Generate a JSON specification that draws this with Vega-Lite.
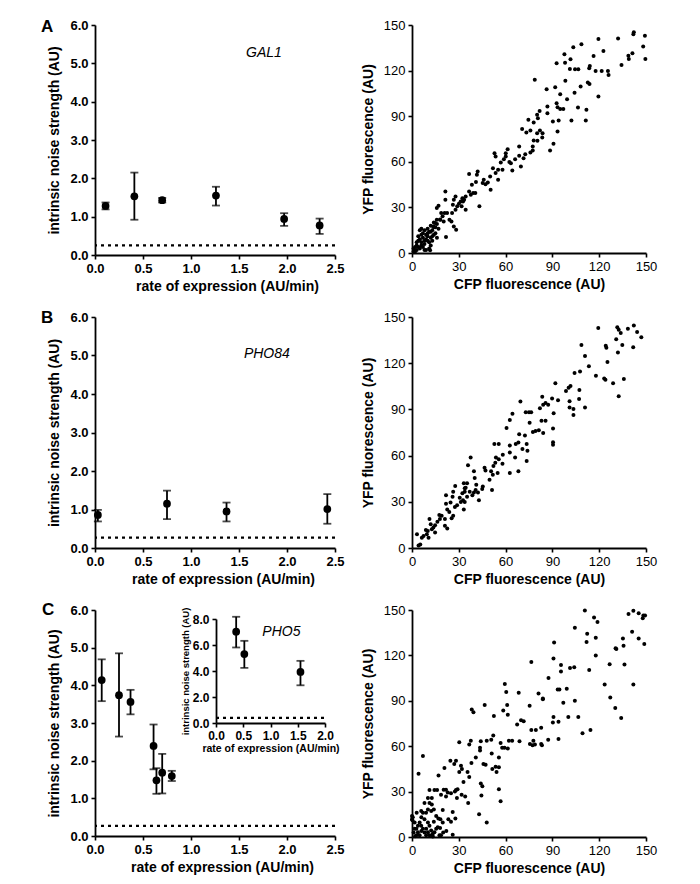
{
  "$schema": "https://vega.github.io/schema/vega-lite/v6.json",
  "background": "white",
  "padding": {"left": 41, "top": 17, "right": 5, "bottom": 5},
  "config": {
    "font": "Liberation Sans",
    "view": {"stroke": null},
    "axis": {
      "grid": false, "domainColor": "black", "domainWidth": 1.8, "tickColor": "black", "tickWidth": 1.6, "tickSize": 4,
      "labelColor": "black", "titleColor": "black", "labelFont": "Liberation Sans", "titleFont": "Liberation Sans",
      "titleFontWeight": "bold", "titleFontSize": 14, "labelFontSize": 13, "labelFlush": false, "labelOverlap": false,
      "labelPadding": 3
    },
    "axisX": {"titlePadding": 4},
    "axisY": {"titlePadding": 8}
  },
  "datasets": {
    "gal1": [
      {"x": 0.11, "y": 1.28, "lo": 1.19, "hi": 1.37},
      {"x": 0.41, "y": 1.53, "lo": 0.92, "hi": 2.15},
      {"x": 0.7, "y": 1.43, "lo": 1.37, "hi": 1.49},
      {"x": 1.26, "y": 1.55, "lo": 1.29, "hi": 1.78},
      {"x": 1.97, "y": 0.94, "lo": 0.76, "hi": 1.09},
      {"x": 2.34, "y": 0.77, "lo": 0.55, "hi": 0.95}
    ],
    "pho84": [
      {"x": 0.03, "y": 0.86, "lo": 0.69, "hi": 0.99},
      {"x": 0.75, "y": 1.15, "lo": 0.75, "hi": 1.49},
      {"x": 1.37, "y": 0.95, "lo": 0.69, "hi": 1.18},
      {"x": 2.42, "y": 1.01, "lo": 0.63, "hi": 1.4}
    ],
    "pho5": [
      {"x": 0.07, "y": 4.14, "lo": 3.58, "hi": 4.69},
      {"x": 0.25, "y": 3.74, "lo": 2.64, "hi": 4.85},
      {"x": 0.37, "y": 3.56, "lo": 3.23, "hi": 3.88},
      {"x": 0.61, "y": 2.39, "lo": 1.77, "hi": 2.96},
      {"x": 0.64, "y": 1.48, "lo": 1.12, "hi": 1.8},
      {"x": 0.7, "y": 1.68, "lo": 1.13, "hi": 2.18},
      {"x": 0.8, "y": 1.59, "lo": 1.46, "hi": 1.73}
    ],
    "pho5inset": [
      {"x": 0.37, "y": 7.02, "lo": 5.81, "hi": 8.17},
      {"x": 0.52, "y": 5.3, "lo": 4.24, "hi": 6.32},
      {"x": 1.55, "y": 3.93, "lo": 2.9, "hi": 4.78}
    ],
    "scatA": [
      {"x":142.2,"y":145.2},{"x":141.9,"y":143.9},{"x":149.3,"y":143},{"x":148.2,"y":135.8},{"x":149.6,"y":127.7},{"x":141.3,"y":131.4},{"x":138.7,"y":129.8},{"x":139,"y":127.7},{"x":134.3,"y":123.7},{"x":132.1,"y":141.2},{"x":119.5,"y":140.8},{"x":122.7,"y":132.9},{"x":116.4,"y":129.6},{"x":114,"y":123},{"x":113.6,"y":121.5},{"x":117.7,"y":119.8},{"x":121.6,"y":119.8},{"x":125.6,"y":119.8},{"x":126,"y":117.1},{"x":119.5,"y":102.9},{"x":112.7,"y":112.1},{"x":113.8,"y":111.2},{"x":111.8,"y":94.2},{"x":111.4,"y":87.1},{"x":108.1,"y":109.5},{"x":106.4,"y":95.7},{"x":104.2,"y":105.5},{"x":102.2,"y":87.1},{"x":99.4,"y":101.2},{"x":108.6,"y":137.3},{"x":103.4,"y":135.3},{"x":101.6,"y":127.4},{"x":101.2,"y":121.1},{"x":104.5,"y":120.9},{"x":106.6,"y":120.9},{"x":97.7,"y":130.7},{"x":98.1,"y":125.2},{"x":98.3,"y":113.4},{"x":92.7,"y":124.8},{"x":91.8,"y":109},{"x":92.7,"y":98.5},{"x":93.3,"y":95.9},{"x":95,"y":104.4},{"x":95,"y":94.8},{"x":94,"y":87.1},{"x":93.3,"y":79.9},{"x":97,"y":94.8},{"x":90.7,"y":71.8},{"x":88.5,"y":67.4},{"x":90.3,"y":86.5},{"x":86.3,"y":107.7},{"x":86.8,"y":96.3},{"x":86.8,"y":92},{"x":78.7,"y":113.9},{"x":81.8,"y":93.5},{"x":80.2,"y":90.9},{"x":80.7,"y":88.7},{"x":78,"y":85.8},{"x":74.6,"y":87.6},{"x":75.9,"y":80.6},{"x":73.3,"y":79.3},{"x":70.6,"y":81.5},{"x":80.2,"y":78.8},{"x":82,"y":80.6},{"x":83.7,"y":78.8},{"x":83.5,"y":76},{"x":80.4,"y":73.8},{"x":78,"y":74},{"x":77.4,"y":70.1},{"x":77.4,"y":67.4},{"x":75.9,"y":66.1},{"x":72.6,"y":65},{"x":71.5,"y":62.4},{"x":68.7,"y":63.9},{"x":69.8,"y":56.9},{"x":68.7,"y":70.1},{"x":66.1,"y":61.7},{"x":62.4,"y":59.8},{"x":63.4,"y":59.1},{"x":60.1,"y":63.5},{"x":60.1,"y":65.7},{"x":61.3,"y":68.3},{"x":64.3,"y":54.3},{"x":58.9,"y":61.7},{"x":56.9,"y":59.6},{"x":58,"y":54.7},{"x":55.2,"y":48.2},{"x":55.2,"y":54.7},{"x":53.6,"y":52.6},{"x":53.6,"y":63.5},{"x":52.9,"y":65.7},{"x":51.9,"y":55.8},{"x":50.1,"y":50.4},{"x":50.4,"y":41.6},{"x":48.6,"y":46.4},{"x":47.1,"y":45.3},{"x":45.3,"y":46},{"x":46,"y":48.2},{"x":42.1,"y":53.6},{"x":41.6,"y":51.5},{"x":41,"y":46.7},{"x":40.6,"y":39.4},{"x":43.2,"y":30.7},{"x":36.6,"y":51.9},{"x":38.4,"y":44.9},{"x":37.7,"y":38.3},{"x":36.6,"y":40.5},{"x":39.2,"y":39.4},{"x":34.4,"y":37.2},{"x":33.4,"y":35},{"x":32.3,"y":36.1},{"x":31.2,"y":33.9},{"x":30.1,"y":32.4},{"x":31.8,"y":30.7},{"x":34.4,"y":28.5},{"x":32.7,"y":33.9},{"x":29,"y":30.7},{"x":27.9,"y":37.2},{"x":26.8,"y":35},{"x":26.2,"y":31.7},{"x":27.9,"y":28.5},{"x":25.7,"y":26.3},{"x":26.8,"y":17.5},{"x":28.3,"y":15.3},{"x":25.3,"y":20.8},{"x":24,"y":21.9},{"x":21.4,"y":40.5},{"x":21.4,"y":35},{"x":22.5,"y":26.3},{"x":20.9,"y":26.3},{"x":19.6,"y":24.1},{"x":18.7,"y":26.3},{"x":20.3,"y":20.8},{"x":21.8,"y":10.5},{"x":18.1,"y":21.9},{"x":17,"y":31.1},{"x":15.9,"y":29.6},{"x":15.9,"y":21.9},{"x":14.8,"y":19.7},{"x":13.7,"y":17.5},
      {"x":5,"y":3},{"x":3,"y":5},{"x":2,"y":1},{"x":4,"y":8},{"x":6,"y":5},{"x":7,"y":10},{"x":8,"y":6},{"x":9,"y":12},{"x":10,"y":8},{"x":11,"y":14},{"x":12,"y":10},{"x":13,"y":15},{"x":14,"y":12},{"x":15,"y":17},{"x":6,"y":12},{"x":5,"y":15},{"x":8,"y":15},{"x":10,"y":16},{"x":12,"y":18},{"x":13,"y":8},{"x":14,"y":20},{"x":16,"y":19},{"x":17,"y":16},{"x":18,"y":22},{"x":11,"y":3},{"x":9,"y":2},{"x":7,"y":4},{"x":3,"y":2},{"x":1,"y":1},{"x":2,"y":4},{"x":4,"y":11},{"x":6,"y":16},{"x":8,"y":2},{"x":10,"y":11},{"x":12,"y":5},{"x":15,"y":13},{"x":16,"y":10},{"x":7,"y":13},{"x":5,"y":9},{"x":9,"y":9},{"x":11,"y":7},{"x":13,"y":11},{"x":14,"y":17},{"x":4,"y":4},{"x":6,"y":7},{"x":8,"y":8},{"x":10,"y":13},{"x":12,"y":14},{"x":3,"y":7},{"x":1,"y":3},{"x":11.6,"y":1.8}
    ],
    "scatB": [
      {"x":142.2,"y":144.5},{"x":131.6,"y":143.4},{"x":132.5,"y":141.8},{"x":138.4,"y":142.3},{"x":144.3,"y":140.3},{"x":147,"y":136.9},{"x":133.8,"y":139.6},{"x":119.4,"y":142.9},{"x":130.9,"y":135.6},{"x":141.8,"y":130.3},{"x":134.8,"y":131.8},{"x":124.2,"y":131.4},{"x":124.6,"y":130.1},{"x":132,"y":127},{"x":108.6,"y":131.8},{"x":110.9,"y":124.7},{"x":125.3,"y":120.8},{"x":113.4,"y":118.1},{"x":117.9,"y":111.9},{"x":123.2,"y":110.1},{"x":124,"y":109.2},{"x":128.9,"y":107},{"x":135.8,"y":109.7},{"x":132.5,"y":98.6},{"x":107.7,"y":114.6},{"x":104.2,"y":113.7},{"x":91.9,"y":107},{"x":101.6,"y":105.2},{"x":100.4,"y":104.1},{"x":98.7,"y":101.9},{"x":107.3,"y":102.6},{"x":107.1,"y":96.8},{"x":110.9,"y":91.3},{"x":101,"y":95.3},{"x":101,"y":91.3},{"x":103.5,"y":90.2},{"x":103.5,"y":86.4},{"x":93.6,"y":95.9},{"x":89.8,"y":97},{"x":90.8,"y":87.5},{"x":90.4,"y":77.6},{"x":90.4,"y":68.7},{"x":90.4,"y":67.1},{"x":87.3,"y":93.1},{"x":85.6,"y":94.2},{"x":84.1,"y":93.1},{"x":83.5,"y":98.2},{"x":82,"y":90.8},{"x":83,"y":82.6},{"x":85.6,"y":82.6},{"x":84.1,"y":74.7},{"x":81.3,"y":76.4},{"x":79.2,"y":76},{"x":77.5,"y":75.3},{"x":76.4,"y":88.2},{"x":75,"y":88.2},{"x":72.9,"y":88.2},{"x":75.4,"y":81.3},{"x":69.5,"y":95.1},{"x":64.4,"y":87.1},{"x":62.7,"y":83.1},{"x":60.6,"y":78},{"x":68.7,"y":73.8},{"x":72.4,"y":73.1},{"x":66.5,"y":67.6},{"x":68.2,"y":68.5},{"x":73.5,"y":67.6},{"x":74,"y":63.2},{"x":70.8,"y":64.3},{"x":73.5,"y":56.5},{"x":68.2,"y":49.9},{"x":62.7,"y":66.5},{"x":62.7,"y":62},{"x":66.1,"y":58.7},{"x":62.7,"y":48.7},{"x":58.2,"y":60.5},{"x":58,"y":54.7},{"x":55.6,"y":67.6},{"x":52.8,"y":67.6},{"x":53.8,"y":58.7},{"x":55.6,"y":57.6},{"x":53.4,"y":55.4},{"x":54.9,"y":48.7},{"x":52.2,"y":53.2},{"x":51.8,"y":47.6},{"x":50.7,"y":49.9},{"x":49.7,"y":44.3},{"x":46.5,"y":52.1},{"x":47.1,"y":50.3},{"x":51.3,"y":37.7},{"x":45,"y":38.3},{"x":45.4,"y":39.9},{"x":42.3,"y":36.1},{"x":42.9,"y":31},{"x":41.2,"y":41},{"x":40.2,"y":45.4},{"x":40.8,"y":37.7},{"x":39.7,"y":36.1},{"x":38.7,"y":34.3},{"x":39.7,"y":49.9},{"x":37.6,"y":58.7},{"x":35.9,"y":53.8},{"x":35.3,"y":42.1},{"x":34.4,"y":39.2},{"x":37,"y":36.6},{"x":35.3,"y":33.2},{"x":33.2,"y":42.1},{"x":33.8,"y":38.8},{"x":33.8,"y":36.6},{"x":32.7,"y":31},{"x":32.3,"y":35.5},{"x":30.6,"y":32.6},{"x":31.3,"y":29.9},{"x":33.2,"y":25},{"x":33.8,"y":29.9},{"x":28.9,"y":27.7},{"x":27.7,"y":40.3},{"x":27.5,"y":26.6},{"x":26.4,"y":36.6},{"x":26,"y":33.2},{"x":24.7,"y":29.5},{"x":23.9,"y":23.3},{"x":26.4,"y":21},{"x":25.4,"y":19.3},{"x":22.6,"y":25},{"x":21.8,"y":34.3},{"x":21.8,"y":28.8},{"x":22.6,"y":12.6},{"x":21.1,"y":14.4},{"x":21.1,"y":18.8},{"x":19,"y":21},{"x":17.5,"y":21.5},{"x":17.9,"y":18.8},{"x":16.3,"y":17.1},{"x":14.8,"y":14.8},{"x":13.7,"y":13.3},{"x":12.7,"y":12.2},{"x":11.2,"y":18.8},{"x":12,"y":15.5},{"x":14.8,"y":10},{"x":10.1,"y":11.1},{"x":9.5,"y":8.9},{"x":8.9,"y":11.7},{"x":7.4,"y":7.8},{"x":6.3,"y":6.6},{"x":5.3,"y":2.2},{"x":4.2,"y":1.6},{"x":3.2,"y":8.9},{"x":10.6,"y":6.6}
    ],
    "scatC": [
      {"x":141.9,"y":149.5},{"x":138.8,"y":147.4},{"x":145.3,"y":147.9},{"x":148.3,"y":146.4},{"x":147.9,"y":144.6},{"x":149.4,"y":146.4},{"x":110.8,"y":149.6},{"x":116.7,"y":145.1},{"x":118.9,"y":142.1},{"x":104.4,"y":138.2},{"x":112.3,"y":134.3},{"x":111.9,"y":128.8},{"x":117.8,"y":131.6},{"x":117.8,"y":120},{"x":91.1,"y":128.6},{"x":90.7,"y":117.9},{"x":141.1,"y":135.6},{"x":145.3,"y":131.1},{"x":135.2,"y":131.1},{"x":135.6,"y":126.4},{"x":130.5,"y":124.7},{"x":131,"y":124.3},{"x":148.9,"y":127.5},{"x":126.7,"y":114.2},{"x":136.2,"y":114},{"x":113.6,"y":110.3},{"x":104,"y":112.1},{"x":101.3,"y":111.6},{"x":95.5,"y":113.6},{"x":95.5,"y":109.3},{"x":76.5,"y":115.7},{"x":123.5,"y":100.7},{"x":141.9,"y":100.7},{"x":127.1,"y":92.1},{"x":130.3,"y":85.3},{"x":134.1,"y":78.6},{"x":104.4,"y":90},{"x":99.2,"y":97.9},{"x":94.5,"y":97.5},{"x":93.4,"y":97.5},{"x":97,"y":88.7},{"x":87.5,"y":105},{"x":59.5,"y":101.1},{"x":60.4,"y":95.8},{"x":68.4,"y":95.4},{"x":81.1,"y":94.9},{"x":83.9,"y":91.5},{"x":83.9,"y":91.1},{"x":61,"y":87.2},{"x":61.4,"y":80.8},{"x":58.5,"y":83.6},{"x":52.5,"y":79.9},{"x":46.6,"y":87.2},{"x":38.3,"y":84.2},{"x":39.4,"y":82.5},{"x":100.2,"y":79.3},{"x":106.6,"y":79.3},{"x":114.4,"y":70.7},{"x":109.3,"y":68.6},{"x":90.7,"y":79.3},{"x":90.3,"y":75.6},{"x":93.9,"y":76.1},{"x":75.4,"y":86.8},{"x":71.6,"y":76.5},{"x":69.9,"y":77.1},{"x":67.4,"y":74.4},{"x":76.5,"y":70.7},{"x":79.4,"y":70.7},{"x":82.8,"y":72.2},{"x":93.9,"y":64.7},{"x":87.3,"y":64.3},{"x":82.8,"y":61.5},{"x":83.3,"y":60.6},{"x":77.8,"y":63.6},{"x":75.6,"y":61.5},{"x":77.3,"y":60.6},{"x":78.8,"y":61.1},{"x":68.9,"y":63.2},{"x":64.2,"y":63.6},{"x":62.1,"y":63.6},{"x":61.4,"y":58.5},{"x":59.3,"y":58.9},{"x":56.8,"y":62.1},{"x":57.8,"y":58.9},{"x":52.1,"y":67.1},{"x":50.8,"y":64.3},{"x":47.9,"y":63.6},{"x":44.1,"y":63.2},{"x":43.6,"y":58.9},{"x":43.6,"y":57.2},{"x":40.9,"y":52.5},{"x":38.1,"y":48.9},{"x":36.7,"y":61.1},{"x":37.7,"y":63.6},{"x":30.3,"y":62.6},{"x":28.2,"y":50.4},{"x":27.1,"y":48.2},{"x":31.4,"y":47.1},{"x":32,"y":45},{"x":24.6,"y":50.4},{"x":20.8,"y":45.6},{"x":17,"y":40.7},{"x":30.3,"y":42.9},{"x":35.6,"y":42.9},{"x":36.7,"y":39.6},{"x":33,"y":36.4},{"x":29.2,"y":31.5},{"x":28.8,"y":25.7},{"x":28.2,"y":31},{"x":27.5,"y":30},{"x":25,"y":28.9},{"x":22.9,"y":29.4},{"x":21.8,"y":31.2},{"x":20.3,"y":31.2},{"x":21.8,"y":26.8},{"x":16.1,"y":31.1},{"x":18.6,"y":27.9},{"x":19.7,"y":17.8},{"x":31.8,"y":27.9},{"x":34.1,"y":26.8},{"x":36,"y":22.5},{"x":43,"y":15},{"x":47.9,"y":9.6},{"x":51.5,"y":45},{"x":54.2,"y":42.9},{"x":51.1,"y":55.1},{"x":55.7,"y":52.5},{"x":53.6,"y":46.5},{"x":55.7,"y":46.1},{"x":55.7,"y":31.5},{"x":56.8,"y":23.6},{"x":44.5,"y":27.4},{"x":45.1,"y":33.6},{"x":44.1,"y":35.4},{"x":45.8,"y":48.2},{"x":47.2,"y":47.8},{"x":23.3,"y":11.8},{"x":26.1,"y":16.5},{"x":27.8,"y":12.2},{"x":26.1,"y":1.5},{"x":14.4,"y":31.1},{"x":12.7,"y":25.7},{"x":11.2,"y":31.1},{"x":7,"y":53.5},{"x":4.2,"y":41.8},
      {"x":0,"y":13.9},{"x":0,"y":11.8},{"x":1.7,"y":9.6},{"x":2.8,"y":5.4},{"x":3.8,"y":3.2},{"x":4.9,"y":1.1},{"x":5.9,"y":17.1},{"x":7,"y":16.1},{"x":8,"y":11.8},{"x":9.1,"y":5.4},{"x":10.2,"y":9.6},{"x":11.2,"y":7.5},{"x":12.3,"y":4.3},{"x":13.3,"y":2.1},{"x":14.4,"y":3.2},{"x":15.5,"y":5.4},{"x":16.5,"y":6.4},{"x":17.6,"y":1.1},{"x":18.6,"y":1.1},{"x":19.7,"y":9.6},{"x":8,"y":22.5},{"x":10.2,"y":25.7},{"x":11.2,"y":22.5},{"x":12.7,"y":21.4},{"x":14,"y":18.2},{"x":15.5,"y":13.9},{"x":16.9,"y":12.2},{"x":18.2,"y":11.8},{"x":10.2,"y":18.2},{"x":12.3,"y":17.1},{"x":5.9,"y":7.5},{"x":3.8,"y":7.5},{"x":1.7,"y":5.4},{"x":2.8,"y":1.1},{"x":11.2,"y":1.1},{"x":13.3,"y":0.3},{"x":4.9,"y":9.6},{"x":9.1,"y":1.1},{"x":10.2,"y":3.2},{"x":7,"y":5.4},{"x":0.5,"y":13},{"x":0.3,"y":11},{"x":1,"y":3},{"x":2,"y":0.5},{"x":6,"y":4},{"x":8,"y":3},{"x":13,"y":1},{"x":22,"y":4},{"x":25,"y":10},{"x":3,"y":16},{"x":6,"y":13},{"x":9,"y":16},{"x":14,"y":10},{"x":18,"y":6},{"x":20,"y":3}
    ]
  },
  "bounds": "flush",
  "columns": 2,
  "spacing": {"row": 62, "column": 77},
  "concat": [
    {
      "width": 240, "height": 230,
      "layer": [
        {"data": {"name": "gal1"}, "mark": {"type": "errorbar", "color": "black", "ticks": {"size": 8, "thickness": 1.8, "color": "black"}, "rule": {"strokeWidth": 1.8, "color": "black"}},
         "encoding": {
           "x": {"field": "x", "type": "quantitative", "scale": {"domain": [0, 2.5], "nice": false, "zero": false}, "axis": {"values": [0, 0.5, 1, 1.5, 2, 2.5], "format": ".1f", "labelFontWeight": "bold", "title": "rate of expression (AU/min)", "titleX": 132}},
           "y": {"field": "lo", "type": "quantitative", "scale": {"domain": [0, 6], "nice": false}, "axis": {"values": [0, 1, 2, 3, 4, 5, 6], "tickCount": 7, "labelOverlap": false, "format": ".1f", "labelFontWeight": "bold", "title": "intrinsic noise strength (AU)"}},
           "y2": {"field": "hi"}}},
        {"data": {"name": "gal1"}, "mark": {"type": "point", "filled": true, "size": 60, "color": "black", "opacity": 1},
         "encoding": {"x": {"field": "x", "type": "quantitative"}, "y": {"field": "y", "type": "quantitative", "axis": {"values": [0, 1, 2, 3, 4, 5, 6], "tickCount": 7, "labelOverlap": false, "format": ".1f", "labelFontWeight": "bold", "title": "intrinsic noise strength (AU)"}}}},
        {"data": {"values": [{}]}, "mark": {"type": "rule", "strokeDash": [3, 4], "strokeWidth": 2.2, "color": "black"}, "encoding": {"y": {"datum": 0.25}}},
        {"data": {"values": [{}]}, "mark": {"type": "text", "text": "GAL1", "fontStyle": "italic", "fontSize": 14, "align": "center", "baseline": "middle"}, "encoding": {"x": {"datum": 1.76}, "y": {"datum": 5.26}}},
        {"data": {"values": [{}]}, "mark": {"type": "text", "text": "A", "fontWeight": "bold", "fontSize": 17, "align": "left", "baseline": "middle", "dx": -54}, "encoding": {"x": {"datum": 0}, "y": {"datum": 5.95}}}
      ]
    },
    {
      "width": 234, "height": 228,
      "data": {"name": "scatA"},
      "mark": {"type": "circle", "size": 16, "color": "black", "opacity": 1},
      "encoding": {
        "x": {"field": "x", "type": "quantitative", "scale": {"domain": [0, 150], "nice": false}, "axis": {"values": [0, 30, 60, 90, 120, 150], "title": "CFP fluorescence (AU)"}},
        "y": {"field": "y", "type": "quantitative", "scale": {"domain": [0, 150], "nice": false}, "axis": {"values": [0, 30, 60, 90, 120, 150], "title": "YFP fluorescence (AU)"}}
      }
    },
    {
      "width": 240, "height": 231,
      "layer": [
        {"data": {"name": "pho84"}, "mark": {"type": "errorbar", "color": "black", "ticks": {"size": 8, "thickness": 1.8, "color": "black"}, "rule": {"strokeWidth": 1.8, "color": "black"}},
         "encoding": {
           "x": {"field": "x", "type": "quantitative", "scale": {"domain": [0, 2.5], "nice": false, "zero": false}, "axis": {"values": [0, 0.5, 1, 1.5, 2, 2.5], "format": ".1f", "labelFontWeight": "bold", "title": "rate of expression (AU/min)", "titleX": 128}},
           "y": {"field": "lo", "type": "quantitative", "scale": {"domain": [0, 6], "nice": false}, "axis": {"values": [0, 1, 2, 3, 4, 5, 6], "tickCount": 7, "labelOverlap": false, "format": ".1f", "labelFontWeight": "bold", "title": "intrinsic noise strength (AU)"}},
           "y2": {"field": "hi"}}},
        {"data": {"name": "pho84"}, "mark": {"type": "point", "filled": true, "size": 60, "color": "black", "opacity": 1},
         "encoding": {"x": {"field": "x", "type": "quantitative"}, "y": {"field": "y", "type": "quantitative", "axis": {"values": [0, 1, 2, 3, 4, 5, 6], "tickCount": 7, "labelOverlap": false, "format": ".1f", "labelFontWeight": "bold", "title": "intrinsic noise strength (AU)"}}}},
        {"data": {"values": [{}]}, "mark": {"type": "rule", "strokeDash": [3, 4], "strokeWidth": 2.2, "color": "black"}, "encoding": {"y": {"datum": 0.27}}},
        {"data": {"values": [{}]}, "mark": {"type": "text", "text": "PHO84", "fontStyle": "italic", "fontSize": 14, "align": "center", "baseline": "middle"}, "encoding": {"x": {"datum": 1.79}, "y": {"datum": 5.03}}},
        {"data": {"values": [{}]}, "mark": {"type": "text", "text": "B", "fontWeight": "bold", "fontSize": 17, "align": "left", "baseline": "middle", "dx": -54}, "encoding": {"x": {"datum": 0}, "y": {"datum": 5.98}}}
      ]
    },
    {
      "width": 234, "height": 231,
      "data": {"name": "scatB"},
      "mark": {"type": "circle", "size": 16, "color": "black", "opacity": 1},
      "encoding": {
        "x": {"field": "x", "type": "quantitative", "scale": {"domain": [0, 150], "nice": false}, "axis": {"values": [0, 30, 60, 90, 120, 150], "title": "CFP fluorescence (AU)"}},
        "y": {"field": "y", "type": "quantitative", "scale": {"domain": [0, 150], "nice": false}, "axis": {"values": [0, 30, 60, 90, 120, 150], "title": "YFP fluorescence (AU)"}}
      }
    },
    {
      "width": 240, "height": 226,
      "resolve": {"scale": {"x": "independent", "y": "independent"}},
      "layer": [
        {
          "layer": [
            {"data": {"name": "pho5"}, "mark": {"type": "errorbar", "color": "black", "ticks": {"size": 8, "thickness": 1.8, "color": "black"}, "rule": {"strokeWidth": 1.8, "color": "black"}},
             "encoding": {
               "x": {"field": "x", "type": "quantitative", "scale": {"domain": [0, 2.5], "nice": false, "zero": false}, "axis": {"values": [0, 0.5, 1, 1.5, 2, 2.5], "format": ".1f", "labelFontWeight": "bold", "title": "rate of expression (AU/min)", "orient": "bottom", "titleX": 127}},
               "y": {"field": "lo", "type": "quantitative", "scale": {"domain": [0, 6], "nice": false}, "axis": {"values": [0, 1, 2, 3, 4, 5, 6], "tickCount": 7, "labelOverlap": false, "format": ".1f", "labelFontWeight": "bold", "title": "intrinsic noise strength (AU)", "orient": "left"}},
               "y2": {"field": "hi"}}},
            {"data": {"name": "pho5"}, "mark": {"type": "point", "filled": true, "size": 60, "color": "black", "opacity": 1},
             "encoding": {"x": {"field": "x", "type": "quantitative"}, "y": {"field": "y", "type": "quantitative", "axis": {"values": [0, 1, 2, 3, 4, 5, 6], "tickCount": 7, "labelOverlap": false, "format": ".1f", "labelFontWeight": "bold", "title": "intrinsic noise strength (AU)", "orient": "left"}}}},
            {"data": {"values": [{}]}, "mark": {"type": "rule", "strokeDash": [3, 4], "strokeWidth": 2.2, "color": "black"}, "encoding": {"y": {"datum": 0.27}}},
            {"data": {"values": [{}]}, "mark": {"type": "text", "text": "C", "fontWeight": "bold", "fontSize": 17, "align": "left", "baseline": "middle", "dx": -53}, "encoding": {"x": {"datum": 0}, "y": {"datum": 6.0}}}
          ]
        },
        {
          "layer": [
            {"data": {"name": "pho5inset"}, "mark": {"type": "errorbar", "color": "black", "ticks": {"size": 8, "thickness": 1.8, "color": "black"}, "rule": {"strokeWidth": 1.8, "color": "black"}},
             "encoding": {
               "x": {"field": "x", "type": "quantitative", "scale": {"domain": [0, 2], "nice": false, "zero": false, "range": [121, 230]}, "axis": {"values": [0, 0.5, 1, 1.5, 2], "format": ".1f", "labelFontWeight": "bold", "labelFontSize": 12, "title": "rate of expression (AU/min)", "titleFontSize": 10.5, "titlePadding": 2, "orient": "bottom", "offset": -113}},
               "y": {"field": "lo", "type": "quantitative", "scale": {"domain": [0, 8], "nice": false, "range": [113, 9]}, "axis": {"values": [0, 2, 4, 6, 8], "format": ".1f", "labelFontWeight": "bold", "labelFontSize": 12, "title": "intrinsic noise strength (AU)", "titleFontSize": 9.5, "titlePadding": 2, "orient": "left", "offset": -121}},
               "y2": {"field": "hi"}}},
            {"data": {"name": "pho5inset"}, "mark": {"type": "point", "filled": true, "size": 60, "color": "black", "opacity": 1},
             "encoding": {"x": {"field": "x", "type": "quantitative"}, "y": {"field": "y", "type": "quantitative"}}},
            {"data": {"values": [{}]}, "mark": {"type": "rule", "strokeDash": [3, 4], "strokeWidth": 2.2, "color": "black"}, "encoding": {"x": {"datum": 0}, "x2": {"datum": 2}, "y": {"datum": 0.4}}},
            {"data": {"values": [{}]}, "mark": {"type": "text", "text": "PHO5", "fontStyle": "italic", "fontSize": 14, "align": "center", "baseline": "middle"}, "encoding": {"x": {"datum": 1.2}, "y": {"datum": 7.0}}}
          ]
        }
      ]
    },
    {
      "width": 234, "height": 227,
      "data": {"name": "scatC"},
      "mark": {"type": "circle", "size": 16, "color": "black", "opacity": 1},
      "encoding": {
        "x": {"field": "x", "type": "quantitative", "scale": {"domain": [0, 150], "nice": false}, "axis": {"values": [0, 30, 60, 90, 120, 150], "title": "CFP fluorescence (AU)"}},
        "y": {"field": "y", "type": "quantitative", "scale": {"domain": [0, 150], "nice": false}, "axis": {"values": [0, 30, 60, 90, 120, 150], "title": "YFP fluorescence (AU)"}}
      }
    }
  ]
}
